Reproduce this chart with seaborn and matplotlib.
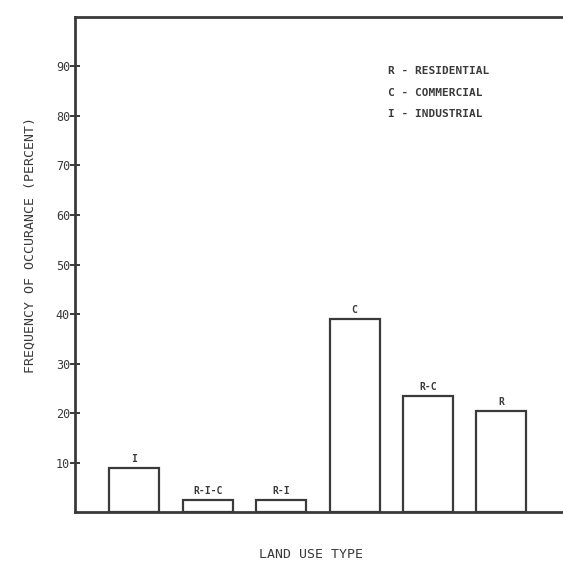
import matplotlib
matplotlib.use('Agg')
import matplotlib.pyplot as plt
import seaborn as sns
import pandas as pd

# values
land_use = ['I', 'R-I-C', 'R-I', 'C', 'R-C', 'R']
frequency = [9.0, 2.5, 2.5, 39.0, 23.5, 20.5]
yticks = [10, 20, 30, 40, 50, 60, 70, 80, 90]
legend_lines = ['R - RESIDENTIAL', 'C - COMMERCIAL', 'I - INDUSTRIAL']

df = pd.DataFrame({'land_use': land_use, 'frequency': frequency})

sns.set_style('white')
plt.rcParams['font.family'] = ['DejaVu Sans Mono', 'DejaVu Sans']
ink = '#3a3a3a'

fig = plt.figure(figsize=(5.63, 5.64), dpi=100)
ax = fig.add_axes([0.133, 0.092, 0.875, 0.878])

sns.barplot(data=df, x='land_use', y='frequency', ax=ax, color='white',
            edgecolor=ink, linewidth=1.6, width=0.68)

# labels above each bar
for i, (lab, val) in enumerate(zip(land_use, frequency)):
    ax.text(i, val + 0.8, lab, ha='center', va='bottom', fontsize=7,
            color=ink, fontweight='bold')

ax.set_xlim(-0.81, 5.9)
ax.set_ylim(0, 100)
ax.set_yticks(yticks)
ax.set_yticklabels([str(t) for t in yticks], fontsize=8.5, color=ink)
ax.set_xticks([])
ax.tick_params(axis='y', left=True, direction='inout', length=7, width=1.4,
               color=ink, pad=0)

for side in ['left', 'top', 'bottom']:
    ax.spines[side].set_color(ink)
    ax.spines[side].set_linewidth(2)
ax.spines['right'].set_visible(False)

ax.set_xlabel('LAND USE TYPE', fontsize=9.5, color=ink)
ax.set_ylabel('FREQUENCY OF OCCURANCE (PERCENT)', fontsize=9.5, color=ink)
ax.xaxis.set_label_coords(0.48, -0.072)
ax.yaxis.set_label_coords(-0.077, 0.54)

# key in the upper right
for k, line in enumerate(legend_lines):
    ax.text(0.635, 0.89 - k * 0.043, line, transform=ax.transAxes,
            fontsize=8, color=ink, fontweight='bold', va='center')

fig.savefig('out.png', dpi=100)
